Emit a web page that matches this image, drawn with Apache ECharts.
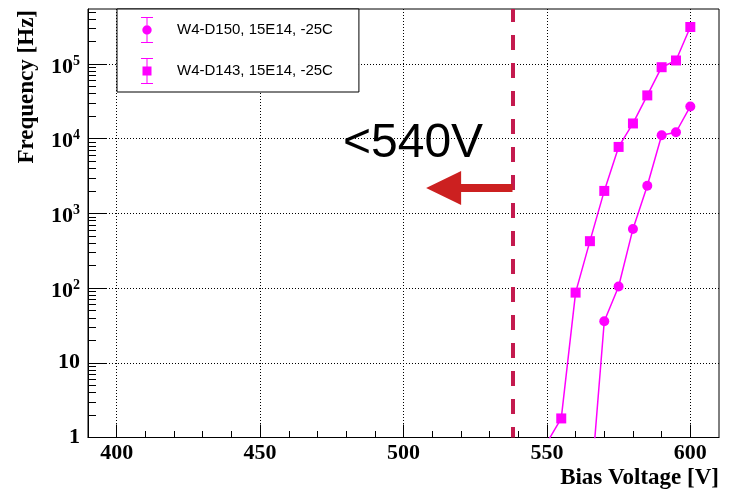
<!DOCTYPE html>
<html><head><meta charset="utf-8">
<script src="https://cdn.jsdelivr.net/npm/echarts@6/dist/echarts.min.js"></script>
<style>html,body{margin:0;padding:0;background:#fff}#c{width:731px;height:494px}</style>
</head><body><div id="c"></div>
<script>
// ---- data ----
const seriesNames = ['W4-D150, 15E14, -25C', 'W4-D143, 15E14, -25C'];
const voltageD150 = [565, 570, 575, 580, 585, 590, 595, 600];
const freqD150    = [0.15, 36, 105, 620, 2340, 11100, 12200, 27000];
const voltageD143 = [550, 555, 560, 565, 570, 575, 580, 585, 590, 595, 600];
const freqD143    = [0.85, 1.8, 87, 425, 2000, 7760, 16000, 38000, 90600, 111500, 313000];

const xMajorTicks = [400, 450, 500, 550, 600];
const xMinorTicks = [410, 420, 430, 440, 460, 470, 480, 490, 510, 520, 530, 540, 560, 570, 580, 590];
const yMajorTicks = [1, 10, 100, 1000, 10000, 100000];
const yMinorTicks = [2,3,4,5,6,7,8,9, 20,30,40,50,60,70,80,90, 200,300,400,500,600,700,800,900,
  2000,3000,4000,5000,6000,7000,8000,9000, 20000,30000,40000,50000,60000,70000,80000,90000,
  200000,300000,400000,500000];

const cutVoltage = 538;     // dashed line position
const arrowLevel = 2190;    // frequency level of the arrow
const arrowEnd = 514;       // voltage at arrow head centre
const annotationText = '<540V';

const xMin = 390, xMax = 610, yMin = 1, yMax = 545000;

const MAG = '#ff00ff';
const serif = '"Liberation Serif", "Times New Roman", serif';
const sans = '"Liberation Sans", Arial, sans-serif';

const pairs = (xs, ys) => xs.map((x, i) => [x, ys[i]]);

const circIcon = 'path://M0,0H12V1H0Z M5.5,1H6.5V25H5.5Z M0,25H12V26H0Z M1.3,13A4.7,4.7 0 1 1 10.7,13A4.7,4.7 0 1 1 1.3,13Z';
const sqIcon = 'path://M0,0H12V1H0Z M5.5,1H6.5V25H5.5Z M0,25H12V26H0Z M1.5,8.5H10.5V17.5H1.5Z';

const chart = echarts.init(document.getElementById('c'), null, {renderer: 'canvas'});
const dotted = {color: '#000', width: 1, type: [1, 2]};

chart.setOption({
  animation: false,
  backgroundColor: '#fff',
  grid: {left: 88, top: 9, width: 631, height: 428.5, show: true, borderColor: '#000', borderWidth: 1, containLabel: false},
  legend: {
    orient: 'vertical', left: 117, top: 9,
    padding: [8, 26, 8, 24], itemGap: 15, itemWidth: 12, itemHeight: 26,
    backgroundColor: '#fff', borderColor: '#000', borderWidth: 1, borderRadius: 0,
    selectedMode: false,
    itemStyle: {borderWidth: 0},
    textStyle: {fontFamily: sans, fontSize: 15, color: '#000', padding: [0, 0, 0, 19]},
    data: [{name: seriesNames[0], icon: circIcon}, {name: seriesNames[1], icon: sqIcon}]
  },
  xAxis: [{
    type: 'value', min: xMin, max: xMax,
    axisLine: {show: true, onZero: false, lineStyle: {color: '#000', width: 1}},
    axisTick: {show: true, inside: true, length: 13, customValues: xMajorTicks, lineStyle: {color: '#000', width: 1}},
    axisLabel: {customValues: xMajorTicks, margin: 5, fontFamily: serif, fontWeight: 'bold', fontSize: 22, color: '#000'},
    splitLine: {show: true, lineStyle: dotted}
  }, {
    type: 'value', min: xMin, max: xMax, position: 'bottom',
    axisLine: {show: false},
    axisTick: {show: true, inside: true, length: 6.5, customValues: xMinorTicks, lineStyle: {color: '#000', width: 1}},
    axisLabel: {show: false}, splitLine: {show: false}
  }],
  yAxis: [{
    type: 'log', logBase: 10, min: yMin, max: yMax, position: 'left',
    axisLine: {show: true, onZero: false, lineStyle: {color: '#000', width: 1}},
    axisTick: {show: true, inside: true, length: 18, customValues: yMajorTicks, lineStyle: {color: '#000', width: 1}},
    axisLabel: {
      customValues: yMajorTicks, margin: 8, color: '#000',
      fontFamily: serif, fontWeight: 'bold', fontSize: 22,
      formatter: function (v) {
        const e = Math.round(Math.log10(v));
        if (e === 0) return '{p|1}';
        if (e === 1) return '{p|10}';
        return '{b|10}{s|' + e + '}';
      },
      rich: {
        p: {fontFamily: serif, fontWeight: 'bold', fontSize: 22, color: '#000'},
        b: {fontFamily: serif, fontWeight: 'bold', fontSize: 22, lineHeight: 22, padding: [6, 0, 0, 0], color: '#000'},
        s: {fontFamily: serif, fontWeight: 'bold', fontSize: 14, lineHeight: 14, padding: [0, 0, 6, 0], color: '#000'}
      }
    },
    splitLine: {show: true, lineStyle: dotted}
  }, {
    type: 'log', logBase: 10, min: yMin, max: yMax, position: 'left', offset: 0,
    axisLine: {show: false},
    axisTick: {show: true, inside: true, length: 8, customValues: yMinorTicks, lineStyle: {color: '#000', width: 1}},
    axisLabel: {show: false}, splitLine: {show: false}
  }],
  series: [{
    name: seriesNames[0], type: 'line', data: pairs(voltageD150, freqD150),
    symbol: 'circle', symbolSize: 10, clip: true, z: 3,
    lineStyle: {color: MAG, width: 1.5}, itemStyle: {color: MAG, borderWidth: 0},
    emphasis: {disabled: true},
    markLine: {
      silent: true, symbol: ['none', 'none'], label: {show: false}, emphasis: {disabled: true}, z: 1,
      data: [
        {xAxis: cutVoltage, lineStyle: {color: '#c41a4e', width: 4, type: [15, 13], dashOffset: 4.5}},
        [{coord: [cutVoltage, arrowLevel], symbol: 'none'},
         {coord: [arrowEnd, arrowLevel], symbol: 'triangle', symbolSize: [34, 35],
          lineStyle: {color: '#cc2020', width: 8, type: 'solid'}, itemStyle: {color: '#cc2020'}}]
      ]
    }
  }, {
    name: seriesNames[1], type: 'line', data: pairs(voltageD143, freqD143),
    symbol: 'rect', symbolSize: 10, clip: true, z: 3,
    lineStyle: {color: MAG, width: 1.5}, itemStyle: {color: MAG, borderWidth: 0},
    emphasis: {disabled: true}
  }],
  graphic: [
    {type: 'text', style: {text: annotationText, x: 343, y: 144, font: '48px ' + sans, fill: '#000', align: 'left', verticalAlign: 'middle'}},
    {type: 'text', x: 27, y: 10, rotation: Math.PI / 2,
     style: {text: 'Frequency [Hz]', x: 0, y: 0, font: 'bold 23px ' + serif, fill: '#000', align: 'right', verticalAlign: 'middle'}},
    {type: 'text', style: {text: 'Bias Voltage [V]', x: 719, y: 478, font: 'bold 23px ' + serif, fill: '#000', align: 'right', verticalAlign: 'middle'}}
  ]
});
</script></body></html>
